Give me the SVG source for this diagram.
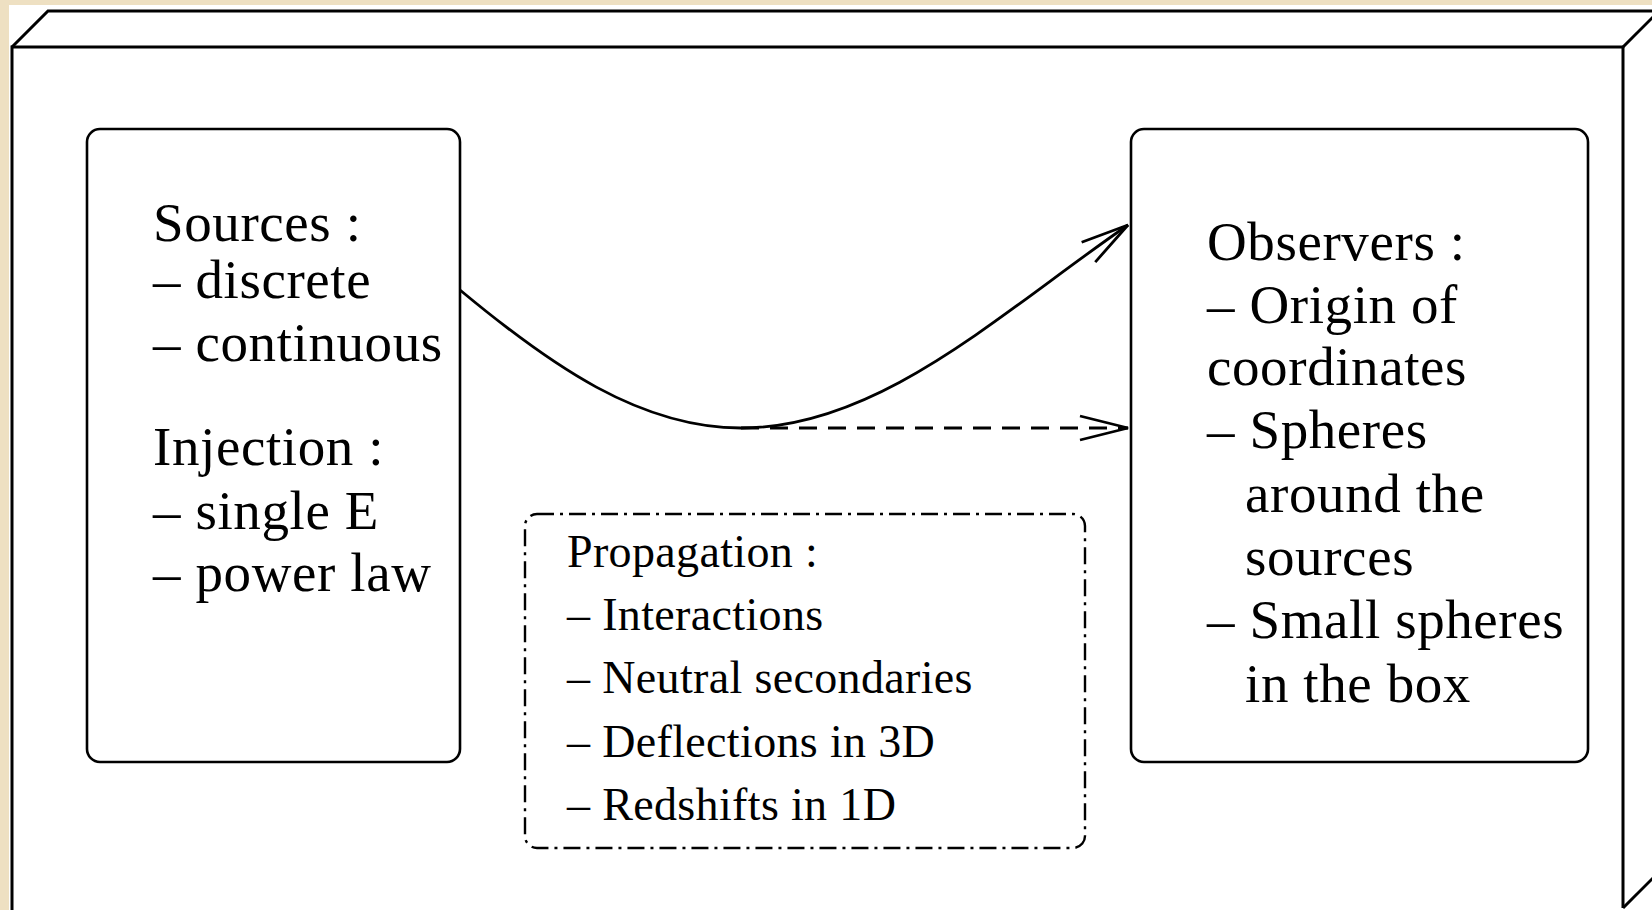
<svg xmlns="http://www.w3.org/2000/svg" width="1652" height="910" viewBox="0 0 1652 910">
<style>
.t{font-family:"Liberation Serif","Times New Roman",serif;fill:#000}
.big{font-size:55px;letter-spacing:0.6px}
.mid{font-size:46px;letter-spacing:0.35px}
.node{fill:#fff;stroke:#000;stroke-width:2.6}
.edge{fill:none;stroke:#000;stroke-width:2.8}
</style>
<defs>
<marker id="open" markerUnits="userSpaceOnUse" markerWidth="60" markerHeight="40" refX="0" refY="0" viewBox="-55 -20 60 40" orient="auto" overflow="visible">
<path d="M-48,-12 L0,0 L-48,12" fill="none" stroke="#000" stroke-width="2.8"/>
</marker>
</defs>
<rect x="0" y="0" width="1652" height="910" fill="#eee0c2"/>
<rect x="9" y="5" width="1643" height="905" fill="#fff"/>
<g id="box3d" fill="none" stroke="#000" stroke-width="3">
<path d="M12,912 L12,47 L1623,47 L1623,908"/>
<path d="M12,47 L48,11 L1670,11"/>
<path d="M1623,47 L1659,11"/>
<path d="M1623,908 L1659,872"/>
</g>
<g id="sources">
<rect class="node" x="87" y="129" width="373" height="633" rx="13"/>
<text class="t big" x="153" y="241">Sources :</text>
<text class="t big" x="153" y="298">– discrete</text>
<text class="t big" x="153" y="361">– continuous</text>
<text class="t big" x="153" y="465">Injection :</text>
<text class="t big" x="153" y="529">– single E</text>
<text class="t big" x="153" y="591">– power law</text>
</g>
<g id="observers">
<rect class="node" x="1131" y="129" width="457" height="633" rx="13"/>
<text class="t big" x="1207" y="260">Observers :</text>
<text class="t big" x="1207" y="323">– Origin of</text>
<text class="t big" x="1207" y="385">coordinates</text>
<text class="t big" x="1207" y="448">– Spheres</text>
<text class="t big" x="1245" y="512">around the</text>
<text class="t big" x="1245" y="575">sources</text>
<text class="t big" x="1207" y="638">– Small spheres</text>
<text class="t big" x="1245" y="702">in the box</text>
</g>
<g id="propagation">
<rect x="525" y="514" width="560" height="334" rx="12" fill="none" stroke="#000" stroke-width="2.4" stroke-dasharray="17 6 3 6"/>
<text class="t mid" x="567" y="567">Propagation :</text>
<text class="t mid" x="567" y="630">– Interactions</text>
<text class="t mid" x="567" y="693">– Neutral secondaries</text>
<text class="t mid" x="567" y="757">– Deflections in 3D</text>
<text class="t mid" x="567" y="820">– Redshifts in 1D</text>
</g>
<g id="connectors">
<path class="edge" d="M460,290 C550,365 640,428 741,428 C880,428 1000,313 1128,225" marker-end="url(#open)"/>
<path class="edge" d="M741,428 L1128,428" stroke-dasharray="18 11" marker-end="url(#open)"/>
</g>
</svg>
